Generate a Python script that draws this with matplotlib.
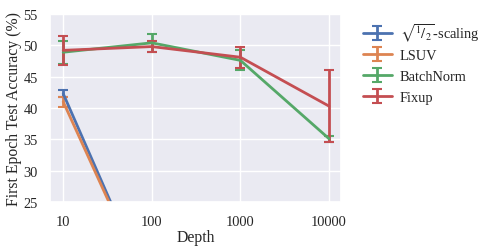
import numpy as np
import matplotlib
matplotlib.use("Agg")
import matplotlib.pyplot as plt
import seaborn as sns
from matplotlib.transforms import Bbox

sns.set_theme(style="darkgrid")
plt.rcParams['font.family'] = ['Liberation Serif', 'DejaVu Serif']
plt.rcParams['mathtext.fontset'] = 'stix'

depths = [10, 100, 1000, 10000]
labels = [r"$\sqrt{{}^1/_2}$-scaling", "LSUV", "BatchNorm", "Fixup"]
sqrt_mean = [42.3, 10.0, 10.0, 10.0]
sqrt_err = [0.6, 0.0, 0.0, 0.0]
lsuv_mean = [41.0, 10.0, 10.0, 10.0]
lsuv_err = [0.8, 0.0, 0.0, 0.0]
bn_mean = [48.9, 50.4, 47.6, 35.1]
bn_err = [1.8, 1.4, 1.6, 0.5]
fixup_mean = [49.2, 49.8, 48.1, 40.3]
fixup_err = [2.3, 0.9, 1.7, 5.8]

colors = sns.color_palette("deep")
TICK_FS = 10.4
LABEL_FS = 11.3

fig = plt.figure(figsize=(4.95, 2.53), dpi=100)
ax = fig.add_axes([50/495, 1-203/253, 291/495, 188/253])

for m, e, lab, c in zip([sqrt_mean, lsuv_mean, bn_mean, fixup_mean],
                        [sqrt_err, lsuv_err, bn_err, fixup_err],
                        labels, colors[:4]):
    ax.errorbar(depths, m, yerr=e, label=lab, color=c, lw=2, capsize=3.5, elinewidth=2, capthick=1.5)

ax.set_xscale('log')
ax.set_xlim(7.1, 13650)
ax.set_ylim(25, 55)
ax.set_xticks(depths)
ax.set_xticklabels([str(d) for d in depths])
ax.minorticks_off()
ax.set_yticks([25, 30, 35, 40, 45, 50, 55])
ax.tick_params(axis='x', labelsize=TICK_FS, pad=3)
ax.tick_params(axis='y', labelsize=TICK_FS, pad=3)
ax.set_xlabel("Depth", fontsize=LABEL_FS, labelpad=1)
ax.set_ylabel("First Epoch Test Accuracy (%)", fontsize=LABEL_FS, labelpad=1)
leg = ax.legend(loc='upper left', bbox_to_anchor=(357/495, 1-23/253),
                bbox_transform=fig.transFigure, frameon=False, fontsize=TICK_FS,
                handlelength=2.0, borderaxespad=0.0, labelspacing=0.55,
                handletextpad=0.55)

# make the math label row the same height as the others
col = leg._legend_handle_box.get_children()[0]
rows = col.get_children()
ta0 = rows[0].get_children()[1]
ta1 = rows[1].get_children()[1]
orig0 = ta0.get_bbox
def _bbox(renderer, _o=orig0, _r=ta1):
    b = _o(renderer)
    r = _r.get_bbox(renderer)
    return Bbox.from_bounds(b.x0, r.y0, b.width, r.height)
ta0.get_bbox = _bbox

fig.savefig("out.png", dpi=100)
